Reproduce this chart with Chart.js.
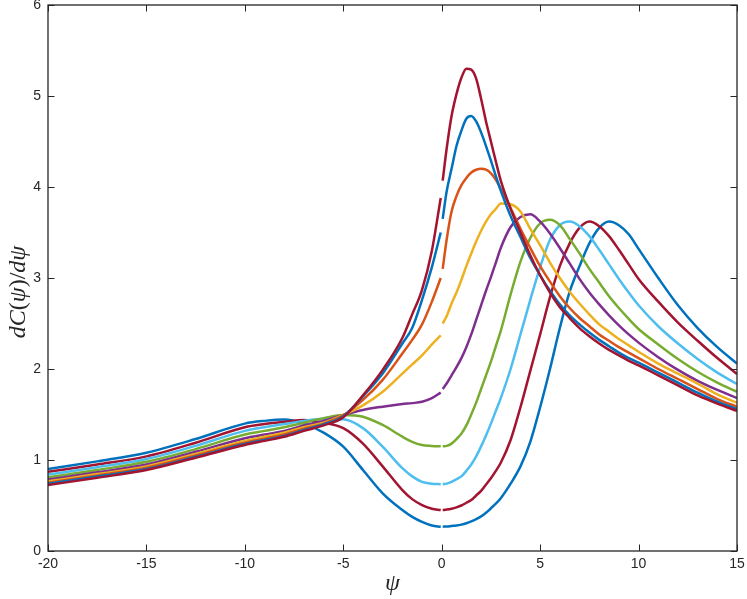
<!DOCTYPE html>
<html>
<head>
<meta charset="utf-8">
<script src="https://cdn.jsdelivr.net/npm/chart.js@4"></script>
<style>
html,body{margin:0;padding:0;background:#fff;}
#wrap{width:747px;height:599px;}
</style>
</head>
<body>
<div id="wrap"><canvas id="c" width="747" height="599"></canvas></div>
<script>
// x positions (psi); null value at psi = 0 leaves the break seen in the reference
const psi = [-20,-17.5,-15,-12.5,-10,-9,-8,-7,-6,-5,-4,-3,-2,-1.5,-1,-0.5,-0.05,0,
  0.05,0.25,0.5,0.75,1,1.25,1.5,1.75,2,2.25,2.5,2.75,3,
  3.5,4,4.5,5,5.5,6,6.5,7,7.5,8,8.5,9,9.5,10,
  11,12,13,14,15];

const c1 = [.725,.805,.89,1.025,1.165,1.21,1.256,1.32,1.38,1.47,1.71,1.99,2.34,2.6,2.87,3.3,3.88,null,
  4.07,4.42,4.78,5.02,5.2,5.3,5.29,5.19,4.97,4.72,4.5,4.28,4.07,
  3.76,3.5,3.25,3.03,2.84,2.68,2.56,2.45,2.36,2.28,2.21,2.15,2.09,2.04,
  1.93,1.82,1.71,1.62,1.54];
const c2 = [.74,.82,.90,1.035,1.175,1.22,1.265,1.33,1.39,1.48,1.70,1.95,2.28,2.45,2.76,3.12,3.5,null,
  3.65,3.95,4.2,4.45,4.62,4.75,4.78,4.72,4.6,4.45,4.29,4.12,3.96,
  3.68,3.45,3.22,3.03,2.86,2.71,2.59,2.49,2.40,2.32,2.25,2.18,2.12,2.07,
  1.96,1.85,1.74,1.64,1.56];
const c3 = [.75,.83,.915,1.05,1.19,1.235,1.28,1.345,1.40,1.49,1.66,1.88,2.17,2.32,2.49,2.74,3.0,null,
  3.1,3.42,3.73,3.9,4.02,4.1,4.16,4.19,4.2,4.19,4.15,4.08,3.98,
  3.77,3.54,3.33,3.13,2.96,2.80,2.67,2.56,2.47,2.38,2.31,2.24,2.18,2.12,
  2.0,1.89,1.78,1.67,1.585];
const c4 = [.765,.845,.93,1.065,1.21,1.255,1.30,1.36,1.41,1.495,1.60,1.75,1.95,2.05,2.15,2.27,2.37,null,
  2.5,2.58,2.72,2.84,2.98,3.13,3.27,3.40,3.52,3.62,3.70,3.76,3.82,
  3.81,3.73,3.54,3.36,3.17,3.0,2.85,2.72,2.6,2.49,2.41,2.33,2.26,2.19,
  2.06,1.95,1.84,1.72,1.63];
const c5 = [.785,.865,.95,1.09,1.24,1.28,1.32,1.38,1.43,1.495,1.55,1.586,1.615,1.625,1.64,1.68,1.74,null,
  1.78,1.84,1.93,2.02,2.12,2.24,2.38,2.54,2.70,2.86,3.01,3.17,3.33,
  3.56,3.67,3.70,3.62,3.49,3.33,3.16,2.99,2.84,2.71,2.59,2.48,2.38,2.29,
  2.13,1.99,1.87,1.77,1.68];
const c6 = [.81,.89,.98,1.12,1.28,1.32,1.36,1.41,1.46,1.495,1.476,1.385,1.256,1.2,1.165,1.155,1.15,null,
  1.15,1.155,1.18,1.23,1.29,1.38,1.5,1.63,1.78,1.93,2.08,2.25,2.42,
  2.82,3.18,3.44,3.6,3.64,3.58,3.43,3.27,3.10,2.95,2.80,2.67,2.55,2.44,
  2.27,2.11,1.97,1.85,1.75];
const c7 = [.84,.92,1.01,1.155,1.32,1.36,1.395,1.43,1.45,1.447,1.35,1.146,.91,.82,.76,.74,.733,null,
  .733,.74,.76,.79,.82,.88,.95,1.04,1.15,1.27,1.40,1.54,1.68,
  2.0,2.38,2.76,3.12,3.42,3.58,3.62,3.57,3.46,3.31,3.15,2.99,2.84,2.70,
  2.47,2.28,2.11,1.96,1.835];
const c8 = [.87,.95,1.04,1.19,1.36,1.395,1.42,1.44,1.41,1.35,1.18,.93,.67,.57,.505,.465,.45,null,
  .45,.455,.465,.48,.50,.53,.56,.61,.66,.73,.80,.88,.97,
  1.22,1.58,1.98,2.38,2.79,3.13,3.38,3.55,3.62,3.57,3.46,3.31,3.15,2.99,
  2.74,2.51,2.31,2.12,1.945];
const c9 = [.90,.985,1.08,1.23,1.40,1.43,1.445,1.40,1.30,1.146,.89,.634,.45,.375,.32,.28,.267,null,
  .267,.27,.275,.28,.29,.305,.325,.35,.38,.42,.47,.52,.58,
  .74,.93,1.2,1.58,2.0,2.45,2.85,3.13,3.38,3.55,3.62,3.58,3.48,3.32,
  3.0,2.7,2.45,2.24,2.06];

const xTicks = [-20,-15,-10,-5,0,5,10,15];
const yTicks = [0,1,2,3,4,5,6];

const seriesList = [c1,c2,c3,c4,c5,c6,c7,c8,c9];
const colors = ['#A2142F','#0072BD','#D95319','#EDB120','#7E2F8E','#77AC30','#4DBEEE','#A2142F','#0072BD'];

const datasets = seriesList.map((s,i)=>({
  data: psi.map((x,k)=>({x:x,y:s[k]})),
  borderColor: colors[i],
  borderWidth: 2.5,
  pointRadius: 0,
  fill: false,
  cubicInterpolationMode: 'monotone',
  spanGaps: false
}));

const axisColor = '#262626';

const boxPlugin = {
  id:'boxTicks',
  afterDraw(chart){
    const ctx = chart.ctx, a = chart.chartArea;
    const xs = chart.scales.x, ys = chart.scales.y;
    ctx.save();
    ctx.strokeStyle = axisColor;
    ctx.lineWidth = 1.3;
    ctx.strokeRect(a.left, a.top, a.right-a.left, a.bottom-a.top);
    ctx.lineWidth = 1;
    const L = 6.5;
    ctx.beginPath();
    xTicks.forEach(v=>{
      const px = Math.round(xs.getPixelForValue(v))+0.5;
      ctx.moveTo(px, a.bottom); ctx.lineTo(px, a.bottom-L);
      ctx.moveTo(px, a.top); ctx.lineTo(px, a.top+L);
    });
    yTicks.forEach(v=>{
      const py = Math.round(ys.getPixelForValue(v))+0.5;
      ctx.moveTo(a.left, py); ctx.lineTo(a.left+L, py);
      ctx.moveTo(a.right, py); ctx.lineTo(a.right-L, py);
    });
    ctx.stroke();
    // axis titles
    ctx.fillStyle = axisColor;
    ctx.textBaseline = 'middle';
    ctx.textAlign = 'center';
    ctx.font = 'italic 24px "Liberation Serif"';
    ctx.fillText('ψ', (a.left+a.right)/2, 584);
    // y title: dC(ψ)/dψ with mixed italic/upright
    const parts = [['dC','italic'],['(','normal'],['ψ','italic'],[')/','normal'],['dψ','italic']];
    const size = 24;
    let total = 0;
    parts.forEach(p=>{ctx.font = p[1]+' '+size+'px "Liberation Serif"'; p.push(ctx.measureText(p[0]).width); total += p[2];});
    ctx.translate(19, 292);
    ctx.rotate(-Math.PI/2);
    ctx.textAlign = 'left';
    let x = -total/2;
    parts.forEach(p=>{ctx.font = p[1]+' '+size+'px "Liberation Serif"'; ctx.fillText(p[0], x, 0); x += p[2];});
    ctx.restore();
  }
};

new Chart(document.getElementById('c'), {
  type:'line',
  data:{datasets},
  options:{
    responsive:false,
    animation:false,
    events:[],
    layout:{autoPadding:false, padding:{top:5,right:10,left:0,bottom:0}},
    plugins:{legend:{display:false},tooltip:{enabled:false}},
    scales:{
      x:{
        type:'linear', min:-20, max:15,
        afterBuildTicks(s){ s.ticks = xTicks.map(v=>({value:v})); },
        afterFit(s){ s.height = 48; s.paddingLeft = 0; s.paddingRight = 0; },
        grid:{display:false, drawTicks:false},
        border:{display:false},
        ticks:{color:axisColor, font:{family:'"Liberation Sans"', size:14}, padding:5, maxRotation:0, autoSkip:false}
      },
      y:{
        type:'linear', min:0, max:6,
        afterBuildTicks(s){ s.ticks = yTicks.map(v=>({value:v})); },
        afterFit(s){ s.width = 48; s.paddingTop = 0; s.paddingBottom = 0; },
        grid:{display:false, drawTicks:false},
        border:{display:false},
        ticks:{color:axisColor, font:{family:'"Liberation Sans"', size:14}, padding:7}
      }
    }
  },
  plugins:[boxPlugin]
});
</script>
</body>
</html>
